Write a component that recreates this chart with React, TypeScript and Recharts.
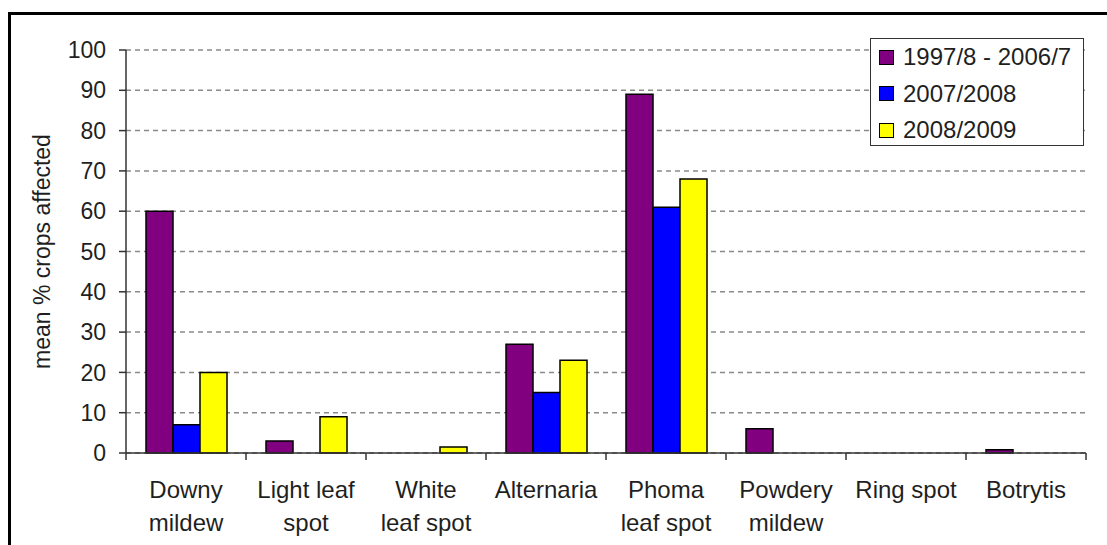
import { Bar, BarChart, CartesianGrid, Legend, XAxis, YAxis } from "recharts";

const diseases = [
  "Downy\nmildew",
  "Light leaf\nspot",
  "White\nleaf spot",
  "Alternaria",
  "Phoma\nleaf spot",
  "Powdery\nmildew",
  "Ring spot",
  "Botrytis",
];
const longTerm = [60, 3, 0, 27, 89, 6, 0, 0.8];
const season0708 = [7, 0, 0, 15, 61, 0, 0, 0];
const season0809 = [20, 9, 1.5, 23, 68, 0, 0, 0];
const yTicks = [0, 10, 20, 30, 40, 50, 60, 70, 80, 90, 100];

const rows = diseases.map((name, i) => ({
  name,
  longTerm: longTerm[i],
  s0708: season0708[i],
  s0809: season0809[i],
}));

const FONT = '"Liberation Sans", Arial, sans-serif';
const INK = "#1f1f1f";

// Excel-style category tick: label centred, tick marks on the band edges
function CategoryTick(props: any) {
  const { x, y, payload, index } = props;
  const half = payload.offset ?? 60;
  const lines = String(payload.value).split("\n");
  return (
    <g>
      <line x1={x - half} x2={x - half} y1={y} y2={y + 7} stroke="#333" strokeWidth={1.5} />
      {index === diseases.length - 1 && (
        <line x1={x + half} x2={x + half} y1={y} y2={y + 7} stroke="#333" strokeWidth={1.5} />
      )}
      {lines.map((t, i) => (
        <text key={i} x={x} y={y + 45 + i * 33} textAnchor="middle" fontSize={24} fontFamily={FONT} fill={INK}>
          {t}
        </text>
      ))}
    </g>
  );
}

function LegendBox(props: any) {
  const items = props.payload ?? [];
  return (
    <div
      style={{
        boxSizing: "border-box",
        width: 214,
        height: 108,
        border: "1.5px solid #333",
        background: "#fff",
        paddingTop: 0,
        fontFamily: FONT,
        fontSize: 24,
        color: INK,
      }}
    >
      {items.map((it: any) => (
        <div key={it.value} style={{ display: "flex", alignItems: "center", height: 36.5, paddingLeft: 8 }}>
          <span
            style={{
              display: "inline-block",
              width: 13,
              height: 13,
              background: it.color,
              border: "1px solid #000",
              marginRight: 9,
            }}
          />
          <span style={{ lineHeight: "24px" }}>{it.value}</span>
        </div>
      ))}
    </div>
  );
}

export default function App() {
  return (
    <div style={{ position: "absolute", left: 0, top: 0, width: 1107, height: 545, background: "#fff" }}>
      <div
        style={{
          position: "absolute",
          left: 8,
          top: 12,
          width: 1099,
          height: 533,
          borderTop: "3px solid #000",
          borderLeft: "3px solid #000",
          boxSizing: "border-box",
        }}
      />
      <div style={{ position: "absolute", left: 0, top: 0 }}>
        <BarChart
          width={1107}
          height={545}
          data={rows}
          margin={{ top: 50, right: 21, bottom: 0, left: 66 }}
          barCategoryGap="16.67%"
          barGap={0}
        >
          <CartesianGrid vertical={false} stroke="#8a8a8a" strokeDasharray="5 4" strokeWidth={1.5} />
          <XAxis
            dataKey="name"
            height={92}
            interval={0}
            axisLine={{ stroke: "#333", strokeWidth: 1.5 }}
            tickLine={false}
            tickSize={0}
            tickMargin={0}
            tick={<CategoryTick />}
          />
          <YAxis
            width={60}
            domain={[0, 100]}
            ticks={yTicks}
            interval={0}
            axisLine={{ stroke: "#333", strokeWidth: 1.5 }}
            tickLine={{ stroke: "#333", strokeWidth: 1.5 }}
            tickSize={7}
            tickMargin={13}
            tick={{ fontSize: 23, fontFamily: FONT, fill: INK }}
            label={{
              content: (p: any) => {
                const vb = p.viewBox ?? { x: 66, y: 50, width: 60, height: 403 };
                const cx = vb.x - 24;
                const cy = vb.y + vb.height / 2;
                return (
                  <text
                    x={cx}
                    y={cy}
                    transform={`rotate(-90 ${cx} ${cy})`}
                    textAnchor="middle"
                    dominantBaseline="central"
                    fontSize={23}
                    fontFamily={FONT}
                    fill={INK}
                  >
                    mean % crops affected
                  </text>
                );
              },
            }}
          />
          <Legend
            layout="vertical"
            align="center"
            verticalAlign="middle"
            wrapperStyle={{ left: 870, top: 38, width: 214, height: 108 }}
            content={<LegendBox />}
          />
          <Bar dataKey="longTerm" name="1997/8 - 2006/7" fill="#800080" stroke="#000" strokeWidth={1.5} isAnimationActive={false} />
          <Bar dataKey="s0708" name="2007/2008" fill="#0000ff" stroke="#000" strokeWidth={1.5} isAnimationActive={false} />
          <Bar dataKey="s0809" name="2008/2009" fill="#ffff00" stroke="#000" strokeWidth={1.5} isAnimationActive={false} />
        </BarChart>
      </div>
    </div>
  );
}
